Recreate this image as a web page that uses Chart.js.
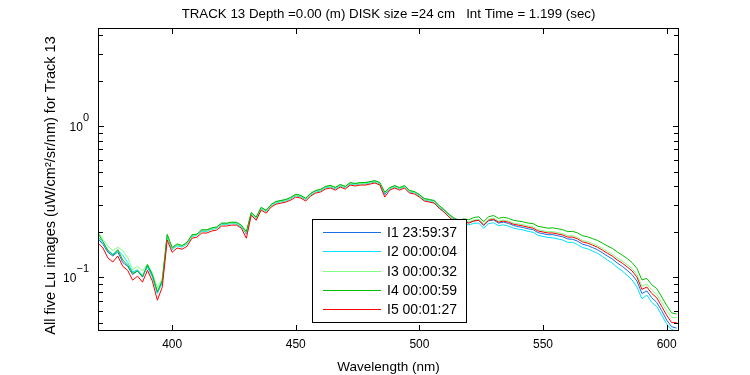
<!DOCTYPE html>
<html>
<head>
<meta charset="utf-8">
<script src="https://cdn.jsdelivr.net/npm/chart.js@4.4.1/dist/chart.umd.min.js"></script>
<style>
body { margin: 0; background: #fff; }
#wrap { width: 750px; height: 375px; }
</style>
</head>
<body>
<div id="wrap"><canvas id="luChart" width="750" height="375"></canvas></div>
<script>
// wavelength grid (nm), 2 nm steps
var wavelengths = [];
for (var w = 370; w <= 604; w += 2) wavelengths.push(w);

var seriesLabels = ['I1 23:59:37', 'I2 00:00:04', 'I3 00:00:32', 'I4 00:00:59', 'I5 00:01:27'];
var seriesColors = ['#1a6ee6', '#00e0ff', '#80ff80', '#00c000', '#ff0000'];

var i1 = [0.180,0.165,0.146,0.138,0.147,0.125,0.118,0.104,0.110,0.100,
          0.119,0.102,0.079,0.094,0.188,0.155,0.163,0.160,0.168,0.188,
          0.191,0.204,0.204,0.210,0.213,0.226,0.226,0.229,0.229,0.219,
          0.193,0.266,0.248,0.288,0.275,0.301,0.315,0.320,0.325,0.336,
          0.351,0.346,0.331,0.356,0.372,0.378,0.396,0.402,0.390,0.408,
          0.396,0.420,0.414,0.420,0.420,0.426,0.432,0.419,0.352,0.389,
          0.401,0.389,0.400,0.371,0.366,0.350,0.329,0.324,0.318,0.295,
          0.277,0.258,0.242,0.232,0.234,0.230,0.236,0.238,0.220,0.236,
          0.239,0.228,0.231,0.227,0.220,0.216,0.213,0.209,0.206,0.197,
          0.194,0.191,0.191,0.188,0.185,0.179,0.178,0.173,0.165,0.162,
          0.157,0.152,0.145,0.138,0.132,0.124,0.118,0.111,0.104,0.094,
          0.078,0.081,0.073,0.068,0.060,0.052,0.047,0.046];

var i2 = [0.185,0.170,0.150,0.142,0.150,0.140,0.125,0.108,0.112,0.102,
          0.116,0.100,0.078,0.092,0.186,0.152,0.161,0.158,0.166,0.186,
          0.189,0.201,0.201,0.207,0.210,0.223,0.223,0.226,0.225,0.215,
          0.195,0.262,0.244,0.284,0.271,0.297,0.310,0.315,0.320,0.331,
          0.346,0.340,0.326,0.350,0.366,0.372,0.390,0.396,0.384,0.402,
          0.390,0.414,0.408,0.414,0.414,0.420,0.426,0.413,0.358,0.384,
          0.396,0.384,0.396,0.366,0.361,0.344,0.324,0.318,0.312,0.289,
          0.271,0.250,0.232,0.224,0.226,0.222,0.227,0.228,0.211,0.226,
          0.229,0.219,0.222,0.218,0.211,0.208,0.205,0.201,0.198,0.189,
          0.186,0.183,0.182,0.179,0.176,0.170,0.170,0.164,0.157,0.154,
          0.149,0.144,0.137,0.130,0.124,0.116,0.110,0.103,0.096,0.086,
          0.072,0.076,0.068,0.064,0.056,0.049,0.045,0.044];

var i3 = [0.200,0.178,0.160,0.150,0.158,0.150,0.135,0.112,0.118,0.110,
          0.122,0.106,0.085,0.098,0.190,0.154,0.163,0.160,0.167,0.187,
          0.190,0.203,0.203,0.209,0.212,0.225,0.225,0.228,0.228,0.218,
          0.197,0.265,0.246,0.286,0.273,0.299,0.313,0.318,0.323,0.334,
          0.349,0.344,0.329,0.354,0.370,0.376,0.394,0.400,0.388,0.406,
          0.394,0.418,0.412,0.418,0.418,0.424,0.430,0.417,0.362,0.387,
          0.399,0.387,0.399,0.370,0.364,0.348,0.328,0.322,0.317,0.294,
          0.276,0.256,0.240,0.232,0.235,0.232,0.239,0.242,0.225,0.242,
          0.246,0.235,0.239,0.235,0.228,0.225,0.222,0.218,0.215,0.206,
          0.203,0.200,0.200,0.197,0.194,0.188,0.188,0.183,0.175,0.172,
          0.167,0.162,0.155,0.148,0.142,0.134,0.128,0.121,0.114,0.104,
          0.087,0.090,0.082,0.077,0.068,0.060,0.054,0.054];

var i4 = [0.195,0.172,0.150,0.140,0.152,0.130,0.120,0.106,0.110,0.101,
          0.121,0.104,0.080,0.095,0.192,0.157,0.166,0.162,0.170,0.191,
          0.193,0.206,0.206,0.212,0.215,0.228,0.228,0.231,0.231,0.221,
          0.200,0.268,0.249,0.290,0.277,0.303,0.317,0.322,0.327,0.338,
          0.354,0.348,0.333,0.359,0.375,0.381,0.399,0.405,0.393,0.411,
          0.399,0.423,0.417,0.423,0.423,0.429,0.436,0.423,0.365,0.392,
          0.404,0.392,0.404,0.375,0.369,0.352,0.332,0.327,0.322,0.298,
          0.280,0.261,0.246,0.239,0.243,0.240,0.248,0.251,0.233,0.251,
          0.256,0.245,0.249,0.245,0.238,0.235,0.232,0.228,0.226,0.217,
          0.214,0.211,0.212,0.209,0.206,0.200,0.201,0.196,0.188,0.185,
          0.180,0.175,0.168,0.161,0.155,0.147,0.140,0.133,0.125,0.114,
          0.096,0.098,0.089,0.084,0.074,0.065,0.058,0.057];

var i5 = [0.168,0.156,0.134,0.126,0.138,0.118,0.111,0.0955,0.1015,0.0927,
          0.111,0.0941,0.0704,0.0859,0.176,0.146,0.156,0.153,0.160,0.181,
          0.184,0.196,0.196,0.202,0.205,0.218,0.218,0.221,0.221,0.211,
          0.181,0.257,0.238,0.278,0.265,0.291,0.304,0.309,0.314,0.324,
          0.339,0.334,0.319,0.344,0.360,0.366,0.383,0.389,0.377,0.395,
          0.383,0.407,0.401,0.407,0.407,0.413,0.420,0.407,0.339,0.377,
          0.389,0.377,0.389,0.360,0.355,0.339,0.319,0.314,0.309,0.286,
          0.269,0.250,0.235,0.228,0.231,0.228,0.235,0.238,0.221,0.238,
          0.242,0.231,0.235,0.231,0.224,0.221,0.218,0.214,0.211,0.202,
          0.199,0.196,0.196,0.193,0.190,0.184,0.184,0.179,0.171,0.168,
          0.163,0.158,0.151,0.144,0.138,0.130,0.124,0.117,0.110,0.100,
          0.083,0.086,0.078,0.073,0.064,0.056,0.050,0.050];

var xTicks = [400, 450, 500, 550, 600];
var yMajorTicks = [0.1, 1];
var yMinorTicks = [0.05, 0.06, 0.07, 0.08, 0.09, 0.2, 0.3, 0.4, 0.5, 0.6, 0.7, 0.8, 0.9, 2, 3, 4];

var titleText = 'TRACK 13 Depth =0.00 (m) DISK size =24 cm   Int Time = 1.199 (sec)';
var xTitle = 'Wavelength (nm)';
var yTitle = 'All five Lu images (uW/cm\u00b2/sr/nm) for Track 13';

var FONT = '"Liberation Sans", Arial, sans-serif';

function toPoints(values) {
    return wavelengths.map(function (w, i) { return { x: w, y: values[i] }; });
}

var allSeries = [i1, i2, i3, i4, i5];
var datasets = allSeries.map(function (s, k) {
    return {
        label: seriesLabels[k],
        data: toPoints(s),
        borderColor: seriesColors[k],
        backgroundColor: seriesColors[k],
        borderWidth: 1,
        pointRadius: 0,
        tension: 0,
        order: 5 - k // red drawn last, on top
    };
});

var matlabAxes = {
    id: 'matlabAxes',
    beforeDraw: function (chart) {
        var ctx = chart.ctx;
        ctx.save();
        ctx.fillStyle = '#fff';
        ctx.fillRect(0, 0, chart.width, chart.height);
        ctx.restore();
    },
    afterDatasetsDraw: function (chart) {
        var ctx = chart.ctx;
        var a = chart.chartArea;
        var xs = chart.scales.x, ys = chart.scales.y;
        ctx.save();
        ctx.strokeStyle = '#000';
        ctx.fillStyle = '#000';
        ctx.lineWidth = 1;

        // ticks pointing inward on all four sides
        ctx.beginPath();
        xTicks.forEach(function (v) {
            var px = Math.round(xs.getPixelForValue(v)) + 0.5;
            ctx.moveTo(px, a.bottom); ctx.lineTo(px, a.bottom - 6);
            ctx.moveTo(px, a.top); ctx.lineTo(px, a.top + 6);
        });
        yMajorTicks.concat(yMinorTicks).forEach(function (v) {
            var len = yMajorTicks.indexOf(v) >= 0 ? 6 : 5;
            var py = Math.round(ys.getPixelForValue(v)) + 0.5;
            ctx.moveTo(a.left, py); ctx.lineTo(a.left + len, py);
            ctx.moveTo(a.right, py); ctx.lineTo(a.right - len, py);
        });
        ctx.stroke();

        // box
        ctx.strokeRect(a.left + 0.5, a.top + 0.5, a.right - a.left - 1, a.bottom - a.top - 1);

        // x tick labels
        ctx.font = '12px ' + FONT;
        ctx.textAlign = 'center';
        ctx.textBaseline = 'middle';
        xTicks.forEach(function (v) {
            ctx.fillText(String(v), xs.getPixelForValue(v), a.bottom + 14);
        });

        // y tick labels 10^n
        yMajorTicks.forEach(function (v) {
            var py = ys.getPixelForValue(v);
            var exp = String(Math.round(Math.log10(v))).replace('-', '\u2212');
            ctx.font = '11px ' + FONT;
            var ew = ctx.measureText(exp).width;
            ctx.font = '12px ' + FONT;
            var bw = ctx.measureText('10').width;
            var right = a.left - 9;
            ctx.textAlign = 'left';
            ctx.textBaseline = 'middle';
            ctx.fillText('10', right - ew - bw, py + 2);
            ctx.font = '11px ' + FONT;
            ctx.fillText(exp, right - ew, py - 8);
        });

        // axis titles
        ctx.textAlign = 'center';
        ctx.textBaseline = 'middle';
        var cx = (a.left + a.right) / 2;
        ctx.font = '13.5px ' + FONT;
        ctx.fillText(xTitle, cx, a.bottom + 36);
        ctx.font = '13.3px ' + FONT;
        ctx.fillText(titleText, cx, 14);

        ctx.save();
        ctx.translate(51, (a.top + a.bottom) / 2 + 6);
        ctx.rotate(-Math.PI / 2);
        ctx.font = '14.5px ' + FONT;
        ctx.fillText(yTitle, 0, 0);
        ctx.restore();

        // legend box
        var lx = 312, ly = 219, lw = 154, lh = 103;
        ctx.fillStyle = '#fff';
        ctx.fillRect(lx, ly, lw, lh);
        ctx.strokeStyle = '#000';
        ctx.strokeRect(lx + 0.5, ly + 0.5, lw, lh);
        ctx.font = '14px ' + FONT;
        ctx.textAlign = 'left';
        ctx.textBaseline = 'middle';
        chart.data.datasets.forEach(function (ds, k) {
            var ry = Math.round(ly + 13 + k * 19.3) + 0.5;
            ctx.strokeStyle = ds.borderColor;
            ctx.beginPath();
            ctx.moveTo(lx + 11, ry);
            ctx.lineTo(lx + 69, ry);
            ctx.stroke();
            ctx.fillStyle = '#000';
            ctx.fillText(ds.label, lx + 75, ry + 1);
        });
        ctx.restore();
    }
};

var ctx = document.getElementById('luChart').getContext('2d');
var myChart = new Chart(ctx, {
    type: 'line',
    data: { datasets: datasets },
    options: {
        responsive: false,
        animation: false,
        layout: { padding: { left: 98, right: 71, top: 28, bottom: 44 } },
        plugins: {
            legend: { display: false },
            tooltip: { enabled: false }
        },
        scales: {
            x: { type: 'linear', min: 370, max: 605, display: false },
            y: { type: 'logarithmic', min: 0.044, max: 4.46, display: false }
        }
    },
    plugins: [matlabAxes]
});
</script>
</body>
</html>
